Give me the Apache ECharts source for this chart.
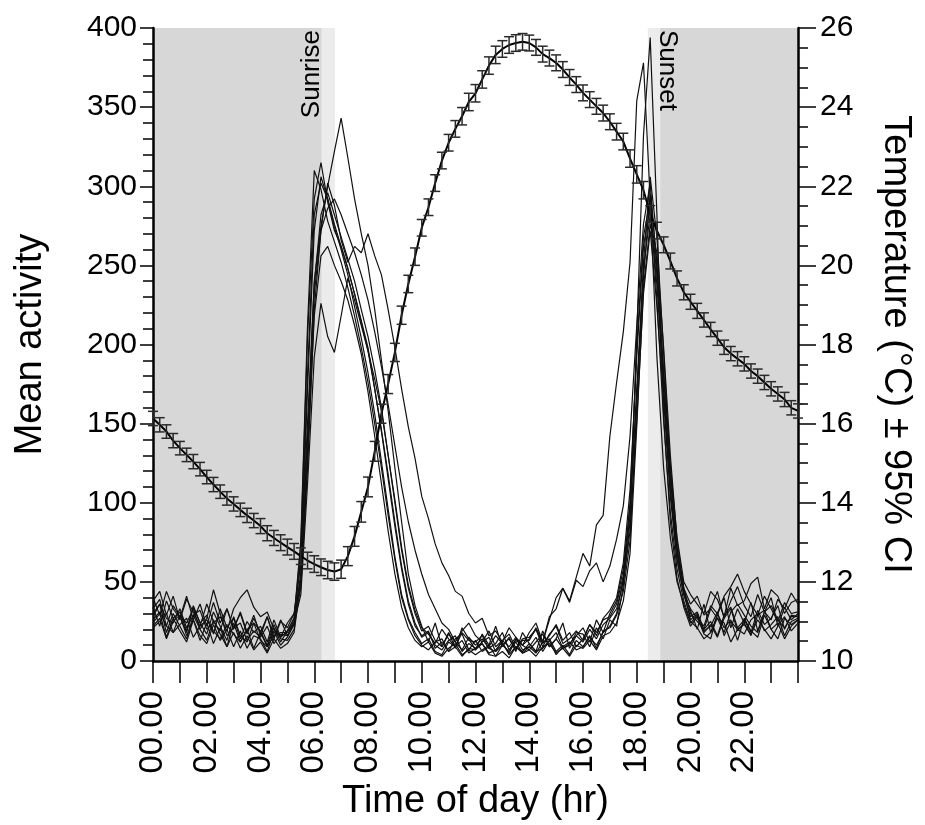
<!DOCTYPE html>
<html>
<head>
<meta charset="utf-8">
<script src="https://cdn.jsdelivr.net/npm/echarts@6/dist/echarts.min.js"></script>
<style>
html,body{margin:0;padding:0;background:#fff;}
#chart{width:925px;height:825px;}
</style>
</head>
<body>
<div id="chart"></div>
<script>
// ---- Data ----
// Activity samples every 15 min from 00:00 to 24:00 (97 values each)
const act1 = [
 34,22,38,27, 31,19,35,24,
 29,17,33,21, 27,14,25,18,
 22,12,26,15, 24,30,62,150,
 240,275,300,322, 343,318,292,270,
 250,222,190,158, 122,88,55,35,
 22,12,24,9, 18,8,21,14,
 7,17,10,22, 9,15,6,18,
 11,6,19,9, 14,24,8,16,
 21,12,26,18, 30,38,58,98,
 168,242,295,252, 180,115,70,44,
 32,20,36,18, 29,40,21,33,
 24,37,19,31, 40,22,34,26,
 30];
const act2 = [
 28,36,18,30, 22,14,29,20,
 13,26,17,9, 24,12,20,8,
 18,9,21,12, 19,27,72,205,
 292,315,290,272, 262,248,232,215,
 198,172,145,115, 85,58,36,22,
 16,19,8,12, 6,14,17,7,
 13,6,9,16, 11,5,14,10,
 7,12,17,9, 14,8,10,18,
 17,9,21,14, 26,22,48,88,
 205,332,394,282, 155,88,52,34,
 22,28,17,14, 30,21,26,13,
 27,19,15,29, 20,24,14,22,
 26];
const act3 = [
 38,44,29,41, 26,39,31,22,
 36,25,19,33, 21,30,17,27,
 18,28,15,26, 16,25,46,122,
 222,272,302,288, 266,252,262,258,
 270,256,244,222, 198,172,148,128,
 104,90,74,62, 54,44,41,30,
 24,27,16,19, 12,21,15,10,
 14,20,11,16, 23,13,18,9,
 14,23,18,26, 28,36,54,92,
 172,248,282,238, 172,108,68,46,
 36,41,29,33, 44,27,38,47,
 35,28,42,31, 26,39,33,43,
 36];
const act4 = [
 26,31,22,18, 29,24,33,20,
 27,45,30,16, 21,24,13,19,
 15,22,11,17, 16,24,42,112,
 192,226,205,195, 218,242,228,212,
 196,178,158,130, 100,70,46,30,
 19,22,13,9, 17,12,7,15,
 10,14,8,6, 13,9,15,7,
 9,15,6,13, 18,8,11,16,
 12,20,14,23, 27,33,50,82,
 152,232,272,224, 165,104,64,42,
 28,31,20,25, 16,29,34,21,
 26,18,32,23, 27,35,20,29,
 28];
const act5 = [
 24,30,15,27, 19,12,26,16,
 11,23,13,20, 9,19,8,16,
 14,6,19,10, 15,23,56,172,
 272,306,292,276, 262,248,232,214,
 196,172,146,118, 88,60,38,24,
 15,18,10,7, 13,16,6,11,
 8,12,15,6, 10,14,7,13,
 13,21,12,26, 40,46,38,53,
 68,60,86,92, 142,176,208,252,
 354,378,292,192, 122,78,50,36,
 24,29,19,22, 31,16,25,20,
 17,26,30,19, 23,28,16,25,
 27];
const act6 = [
 33,39,22,35, 28,18,34,24,
 17,31,22,13, 28,16,12,24,
 19,10,23,14, 13,20,52,142,
 238,282,296,282, 268,254,240,222,
 205,184,160,130, 102,72,48,32,
 21,17,11,20, 14,9,18,13,
 12,16,8,11, 18,7,13,10,
 18,24,12,28, 33,46,37,51,
 47,57,62,50, 60,77,98,142,
 212,276,302,248, 172,108,64,42,
 33,27,22,35, 30,41,47,55,
 44,36,29,41, 33,25,37,30,
 31];
const act7 = [
 21,25,30,18, 23,27,15,22,
 26,19,14,23, 17,12,20,24,
 13,9,16,18, 18,25,66,182,
 282,302,292,274, 260,244,224,204,
 182,156,126,96, 66,42,27,18,
 11,14,6,4, 12,9,3,8,
 7,11,4,3, 10,6,12,5,
 9,5,12,14, 6,10,4,13,
 9,16,8,19, 21,29,44,76,
 162,252,306,268, 195,120,72,44,
 26,30,18,23, 15,27,33,19,
 24,16,29,32, 20,14,27,23,
 26];
const act8 = [
 40,29,44,33, 27,41,26,36,
 22,37,24,33, 20,31,18,29,
 16,28,14,25, 21,30,52,132,
 232,272,286,292, 282,270,258,244,
 228,208,186,162, 136,110,88,70,
 55,42,33,24, 20,12,19,24,
 16,12,19,9, 13,17,8,14,
 15,20,9,17, 22,11,14,19,
 13,23,16,27, 32,40,62,108,
 192,262,287,244, 184,124,78,50,
 42,36,30,44, 39,28,46,35,
 38,49,53,33, 45,41,30,37,
 39];
const act9 = [
 22,27,14,25, 29,16,26,13,
 24,11,21,9, 18,8,16,7,
 12,5,14,8, 11,18,50,128,
 218,256,262,250, 240,228,212,194,
 170,142,112,82, 55,34,21,13,
 9,12,5,3, 8,11,4,7,
 4,7,10,3, 6,2,9,5,
 7,3,9,11, 5,8,3,10,
 8,13,7,16, 18,24,38,68,
 148,236,276,258, 198,130,76,46,
 30,25,20,33, 27,18,31,36,
 29,22,18,31, 35,26,21,28,
 28];
const act10 = [
 30,36,27,24, 33,21,29,32,
 20,24,28,19, 33,40,45,34,
 28,31,20,15, 19,27,76,212,
 310,298,278,265, 252,236,218,198,
 176,150,122,92, 64,40,26,16,
 10,7,12,14, 6,9,13,5,
 8,11,5,7, 12,4,9,6,
 11,6,8,13, 4,9,12,7,
 9,15,10,18, 22,30,52,100,
 198,268,292,228, 152,94,58,38,
 25,21,14,18, 27,24,12,20,
 23,17,26,20, 14,22,28,19,
 24];
const activitySeries = [act1, act2, act3, act4, act5, act6, act7, act8, act9, act10];
const activityStepHr = 0.25;

// Temperature (°C) every 15 min from 00:00 to 24:00 (97 values) and its 95% CI half-width
const temperature = [
 16.13,15.97,15.80,15.57, 15.38,15.21,15.04,14.85,
 14.65,14.46,14.28,14.11, 13.97,13.82,13.68,13.55,
 13.41,13.23,13.11,12.99, 12.88,12.77,12.65,12.54,
 12.45,12.37,12.30,12.26, 12.32,12.65,13.15,13.77,
 14.40,15.30,16.25,17.00, 17.80,18.74,19.53,20.22,
 20.95,21.47,22.08,22.65, 23.10,23.45,23.77,24.13,
 24.35,24.70,25.05,25.32, 25.47,25.57,25.62,25.65,
 25.62,25.51,25.34,25.24, 25.12,24.95,24.75,24.57,
 24.36,24.19,24.02,23.85, 23.63,23.38,23.13,22.70,
 22.30,21.90,21.30,20.88, 20.52,20.11,19.67,19.32,
 19.08,18.85,18.62,18.38, 18.16,17.93,17.77,17.64,
 17.51,17.33,17.20,17.04, 16.88,16.75,16.61,16.40,
 16.32];
const tempCI = [
 0.18,0.18,0.17,0.18, 0.17,0.17,0.18,0.17,
 0.17,0.18,0.17,0.17, 0.18,0.17,0.18,0.18,
 0.19,0.19,0.19,0.20, 0.20,0.20,0.21,0.21,
 0.21,0.21,0.22,0.22, 0.23,0.24,0.25,0.26,
 0.25,0.25,0.24,0.24, 0.23,0.23,0.22,0.22,
 0.21,0.21,0.21,0.21, 0.21,0.21,0.22,0.22,
 0.22,0.22,0.22,0.22, 0.21,0.21,0.21,0.21,
 0.20,0.20,0.20,0.20, 0.20,0.20,0.20,0.20,
 0.20,0.20,0.20,0.20, 0.20,0.21,0.21,0.22,
 0.22,0.22,0.21,0.21, 0.20,0.20,0.19,0.19,
 0.19,0.19,0.18,0.18, 0.18,0.18,0.18,0.18,
 0.18,0.18,0.18,0.18, 0.18,0.18,0.18,0.18,
 0.18];
const tempStepHr = 0.25;

// Night (dark) and twilight (light) periods, hours
const darkPeriods = [[0, 6.28], [18.87, 24]];
const twilightPeriods = [[6.28, 6.77], [18.41, 18.87]];
const eventLabels = ['Sunrise', 'Sunset'];
const eventTimes = [6.28, 18.87];

// Axis tick labels
const xTickLabels = ['00.00','02.00','04.00','06.00','08.00','10.00','12.00','14.00','16.00','18.00','20.00','22.00'];

// ---- Chart ----
const FONT = '"Liberation Sans", Arial, sans-serif';
const chart = echarts.init(document.getElementById('chart'), null, {renderer: 'canvas'});

const shadeData = darkPeriods.map(p => [p[0], p[1], 0]).concat(twilightPeriods.map(p => [p[0], p[1], 1]));
const shadeColors = ['#d7d7d7', '#ececec'];

const series = [];
series.push({
  type: 'custom', name: 'shade', z: 0, silent: true,
  data: shadeData,
  renderItem: function (params, api) {
    const s = api.coord([api.value(0), 0]);
    const e = api.coord([api.value(1), 0]);
    const cs = params.coordSys;
    return {type: 'rect', shape: {x: s[0], y: cs.y, width: e[0] - s[0], height: cs.height},
            style: {fill: shadeColors[api.value(2)]}};
  }
});
series.push({
  type: 'custom', name: 'events', z: 1, silent: true,
  data: eventTimes.map(t => [t, 0]),
  renderItem: function (params, api) {
    const p = api.coord([api.value(0), 0]);
    const cs = params.coordSys;
    const isRise = params.dataIndex === 0;
    return {
      type: 'text',
      x: isRise ? p[0] - 10 : p[0] + 7,
      y: cs.y + 2,
      rotation: isRise ? Math.PI / 2 : -Math.PI / 2,
      style: {
        text: eventLabels[params.dataIndex],
        fill: '#000',
        fontSize: 26,
        fontFamily: FONT,
        align: isRise ? 'right' : 'left',
        verticalAlign: 'middle'
      }
    };
  }
});
activitySeries.forEach((arr, k) => {
  series.push({
    type: 'line', name: 'bird' + (k + 1), xAxisIndex: 0, yAxisIndex: 0, z: 3,
    symbol: 'none', silent: true,
    lineStyle: {color: '#111', width: 1.2},
    data: arr.map((v, i) => [i * activityStepHr, v])
  });
});
series.push({
  type: 'line', name: 'temperature', yAxisIndex: 1, z: 5, symbol: 'none', silent: true,
  lineStyle: {color: '#000', width: 2},
  data: temperature.map((v, i) => [i * tempStepHr, v])
});
series.push({
  type: 'custom', name: 'ci', yAxisIndex: 1, z: 6, silent: true,
  data: temperature.map((v, i) => [i * tempStepHr, v, tempCI[i]]),
  renderItem: function (params, api) {
    const x = api.value(0), y = api.value(1), e = api.value(2);
    const hi = api.coord([x, y + e]);
    const lo = api.coord([x, y - e]);
    const w = 5;
    const st = {stroke: '#2a2a2a', lineWidth: 1.5};
    return {type: 'group', children: [
      {type: 'line', shape: {x1: hi[0], y1: hi[1], x2: lo[0], y2: lo[1]}, style: st},
      {type: 'line', shape: {x1: hi[0] - w, y1: hi[1], x2: hi[0] + w, y2: hi[1]}, style: st},
      {type: 'line', shape: {x1: lo[0] - w, y1: lo[1], x2: lo[0] + w, y2: lo[1]}, style: st}
    ]};
  }
});

const axisLine = {show: true, lineStyle: {color: '#000', width: 2.5}};
chart.setOption({
  animation: false,
  backgroundColor: '#fff',
  grid: {left: 153, right: 127, top: 28, bottom: 164, containLabel: false, outerBoundsMode: 'none'},
  xAxis: {
    type: 'value', min: 0, max: 24, interval: 1,
    axisLine: axisLine,
    axisTick: {show: true, length: 22, lineStyle: {color: '#000', width: 1.5}},
    axisLabel: {
      rotate: 90, margin: 30, fontSize: 33, color: '#000', fontFamily: FONT,
      formatter: function (v) { return (v % 2 === 0 && v < 24) ? xTickLabels[v / 2] : ''; }
    },
    splitLine: {show: false},
    name: 'Time of day (hr)', nameLocation: 'middle', nameGap: 122,
    nameTextStyle: {fontSize: 38, color: '#000', fontFamily: FONT}
  },
  yAxis: [{
    type: 'value', min: 0, max: 400, interval: 50, position: 'left',
    axisLine: axisLine,
    axisTick: {show: true, length: 13, lineStyle: {color: '#000', width: 1.5}},
    minorTick: {show: true, splitNumber: 5, length: 10, lineStyle: {color: '#000', width: 1.5}},
    axisLabel: {margin: 16, fontSize: 30, color: '#000', fontFamily: FONT},
    splitLine: {show: false},
    name: 'Mean activity', nameLocation: 'middle', nameGap: 103,
    nameTextStyle: {fontSize: 38, color: '#000', fontFamily: FONT}
  }, {
    type: 'value', min: 10, max: 26, interval: 2, position: 'right',
    axisLine: axisLine,
    axisTick: {show: true, length: 18, lineStyle: {color: '#000', width: 1.5}},
    minorTick: {show: true, splitNumber: 4, length: 10, lineStyle: {color: '#000', width: 1.5}},
    axisLabel: {margin: 22, fontSize: 30, color: '#000', fontFamily: FONT},
    splitLine: {show: false},
    name: 'Temperature (°C) ± 95% CI', nameLocation: 'middle', nameGap: 78, nameRotate: -90,
    nameTextStyle: {fontSize: 38, color: '#000', fontFamily: FONT}
  }],
  series: series
});
</script>
</body>
</html>
